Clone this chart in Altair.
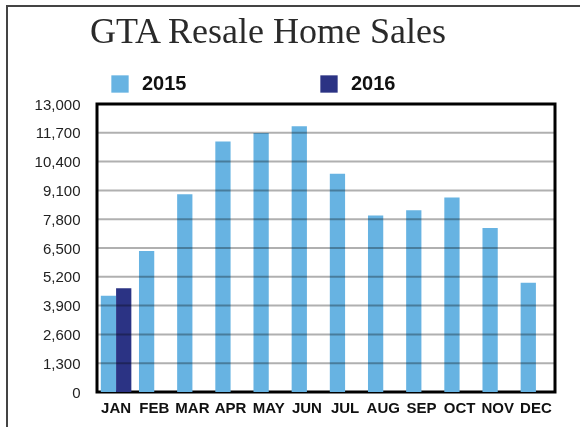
import altair as alt
import pandas as pd

months = ["JAN", "FEB", "MAR", "APR", "MAY", "JUN", "JUL", "AUG", "SEP", "OCT", "NOV", "DEC"]
sales_2015 = [4350, 6370, 8930, 11310, 11690, 12000, 9850, 7970, 8200, 8780, 7400, 4935]
sales_2016_months = ["JAN"]
sales_2016 = [4680]
years = ["2015", "2016"]
colors = ["#67b3e2", "#2b3384"]
ticks = [0, 1300, 2600, 3900, 5200, 6500, 7800, 9100, 10400, 11700, 13000]

rows = [{"month": m, "year": "2015", "sales": v} for m, v in zip(months, sales_2015)]
rows += [{"month": m, "year": "2016", "sales": v} for m, v in zip(sales_2016_months, sales_2016)]
df = pd.DataFrame(rows)
grid_df = pd.DataFrame({"v": ticks[1:-1]})

W, H = 458, 288

yscale = alt.Scale(domain=[0, 13000], nice=False)
yaxis = alt.Axis(title=None, values=ticks, format=",d", grid=False,
                 ticks=False, domain=False, labelFont="Liberation Sans",
                 labelFontSize=15, labelColor="#222", labelPadding=17,
                 labelOverlap=False)

bars = alt.Chart(df).mark_bar().encode(
    x=alt.X("month:N", sort=months,
            scale=alt.Scale(domain=months, paddingInner=0.2, paddingOuter=0.1),
            axis=alt.Axis(title=None, labelAngle=0, labelFont="Liberation Sans",
                          labelFontWeight="bold", labelFontSize=15, labelColor="#111",
                          ticks=False, domain=False, labelPadding=8)),
    xOffset=alt.XOffset("year:N", scale=alt.Scale(domain=years, paddingInner=0, paddingOuter=0)),
    y=alt.Y("sales:Q", scale=yscale, axis=yaxis),
    color=alt.Color("year:N", scale=alt.Scale(domain=years, range=colors),
                    legend=alt.Legend(title=None, orient="none", legendX=13, legendY=-30,
                                      direction="horizontal", columns=2,
                                      symbolType="square", symbolSize=300,
                                      symbolStrokeWidth=0, symbolOpacity=1,
                                      labelFont="Liberation Sans", labelFontWeight="bold",
                                      labelFontSize=20, labelColor="#111", labelOffset=12,
                                      columnPadding=132)),
)

grid = alt.Chart(grid_df).mark_rule(color="#b0b0b0", strokeWidth=2, blend="multiply").encode(
    y=alt.Y("v:Q", scale=yscale, axis=yaxis)
)

frame = alt.Chart(grid_df).mark_rect(fill=None, stroke="#444", strokeWidth=1.5, clip=False).encode(
    x=alt.value(-90), x2=alt.value(W + 60), y=alt.value(-98), y2=alt.value(H + 80)
)

chart = alt.layer(bars, grid, frame).properties(
    width=W, height=H,
    title=alt.TitleParams("GTA Resale Home Sales", font="Liberation Serif", fontSize=36,
                          fontWeight="normal", color="#2a2a2a", anchor="middle",
                          baseline="alphabetic", dx=-58, dy=74, offset=0),
    autosize=alt.AutoSizeParams(type="none"),
    padding={"left": 97, "top": 104, "right": 25, "bottom": 35},
).configure(background="white").configure_view(stroke="black", strokeWidth=3)

chart.save("out.html", embed_options={"renderer": "svg", "actions": False})
